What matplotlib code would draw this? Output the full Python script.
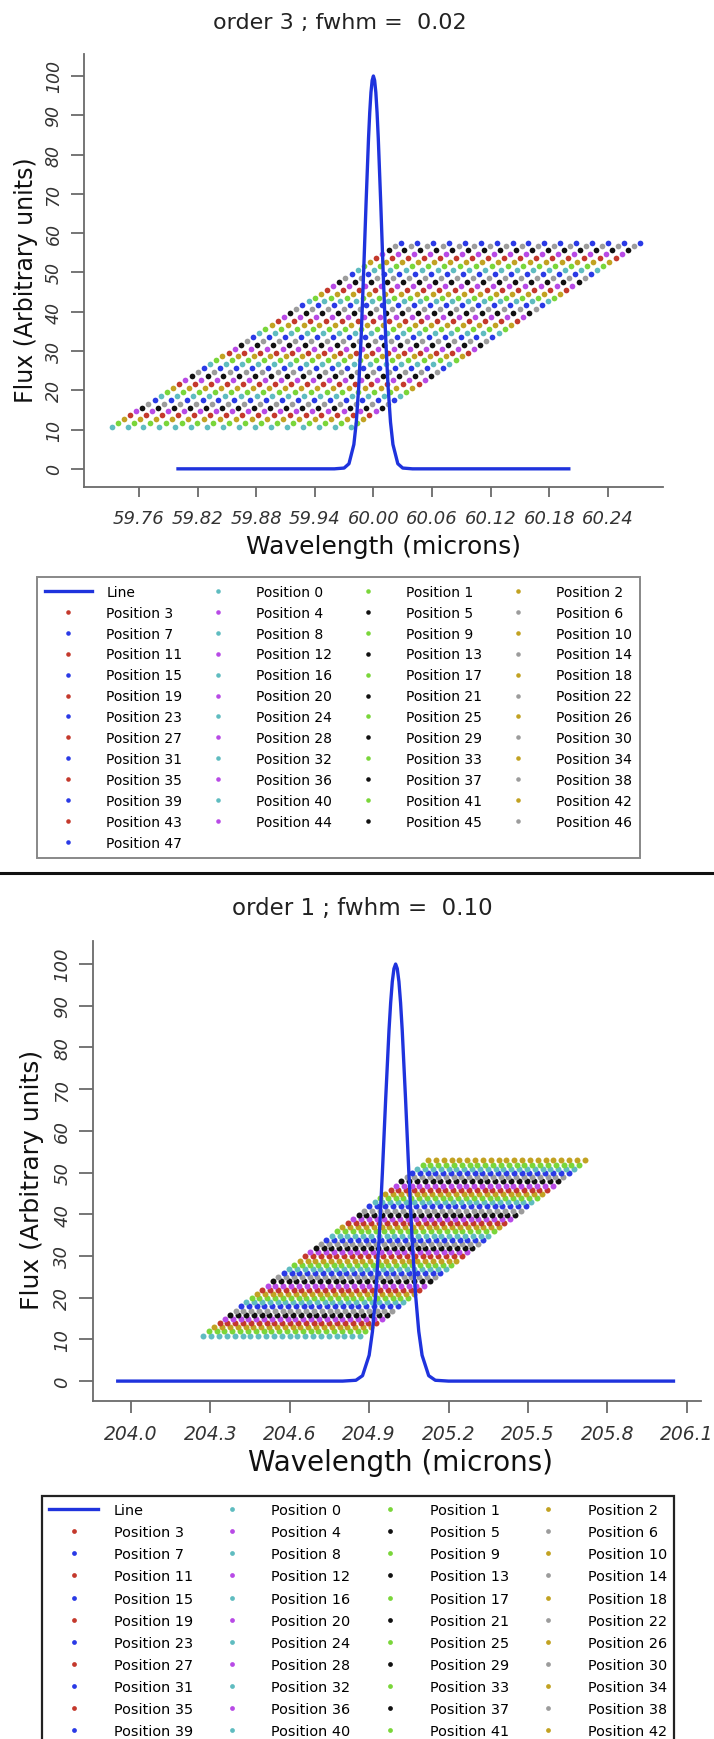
import numpy as np
import matplotlib
matplotlib.use("Agg")
import matplotlib.pyplot as plt
from matplotlib.lines import Line2D
from matplotlib.legend_handler import HandlerLine2D

plt.rcParams['font.family'] = ['DejaVu Sans']

# colours of the positions, repeating every 8 positions
pos_colors = ["#5fbcc0", "#7ad63a", "#c2a222", "#c4392c",
              "#b84ae6", "#111111", "#9c9c9c", "#2a3ae6"]
line_color = "#1f33dd"

# ---------------- panel 1 : order 3 ----------------
p1_title = "order 3 ; fwhm =  0.02"
p1_line_wave = [59.80, 59.96, 59.97, 59.975, 59.98, 59.9825, 59.985, 59.9875, 59.99,
                59.9925, 59.995, 59.99625, 59.9975, 59.99875, 60.00, 60.00125, 60.0025,
                60.00375, 60.005, 60.0075, 60.01, 60.0125, 60.015, 60.0175, 60.02,
                60.025, 60.03, 60.04, 60.20]
p1_line_flux = [0.0, 0.0, 0.2, 1.3, 6.2, 11.9, 21.0, 33.8, 50.0,
                67.7, 84.1, 90.7, 95.8, 98.9, 100.0, 98.9, 95.8,
                90.7, 84.1, 67.7, 50.0, 33.8, 21.0, 11.9, 6.2,
                1.3, 0.2, 0.0, 0.0]
# sampling grid of the positions (one row of samples per position)
p1_n_pos = 48
p1_first_wave = 59.732     # first sample of position 0
p1_pos_shift = 0.0063      # wavelength shift from one position to the next
p1_samp_step = 0.01633     # spacing of samples inside a position
p1_n_samp = 16
p1_first_flux = 10.6
p1_flux_step = 1.0
p1_xticks = [59.76, 59.82, 59.88, 59.94, 60.00, 60.06, 60.12, 60.18, 60.24]
p1_xlim = (59.704, 60.296)

# ---------------- panel 2 : order 1 ----------------
p2_title = "order 1 ; fwhm =  0.10"
p2_line_wave = [203.95, 204.80, 204.85, 204.875, 204.90, 204.9125, 204.925, 204.9375, 204.95,
                204.9625, 204.975, 204.98125, 204.9875, 204.99375, 205.00, 205.00625, 205.0125,
                205.01875, 205.025, 205.0375, 205.05, 205.0625, 205.075, 205.0875, 205.10,
                205.125, 205.15, 205.20, 206.05]
p2_line_flux = [0.0, 0.0, 0.2, 1.3, 6.2, 11.9, 21.0, 33.8, 50.0,
                67.7, 84.1, 90.7, 95.8, 98.9, 100.0, 98.9, 95.8,
                90.7, 84.1, 67.7, 50.0, 33.8, 21.0, 11.9, 6.2,
                1.3, 0.2, 0.0, 0.0]
p2_n_pos = 43
p2_first_wave = 204.274
p2_pos_shift = 0.0202
p2_samp_step = 0.0296
p2_n_samp = 21
p2_first_flux = 10.9
p2_flux_step = 1.0
p2_xticks = [204.0, 204.3, 204.6, 204.9, 205.2, 205.5, 205.8, 206.1]
p2_xlim = (203.858, 206.154)

yticks = [0, 10, 20, 30, 40, 50, 60, 70, 80, 90, 100]
ylim = (-4.7, 105.6)

W, H = 714.0, 1740.0


def fx(px):
    return px / W


def fy(py):
    return 1 - py / H


class DotRight(HandlerLine2D):
    # put the legend point near the right end of the handle, like R does
    def get_xdata(self, legend, xdescent, ydescent, width, height, fontsize):
        return [-xdescent, -xdescent + width], [-xdescent + 0.93 * width]


def draw_panel(ax, line_wave, line_flux, n_pos, first_wave, shift, step, n_samp,
               first_flux, flux_step, ms):
    handles = []
    ln, = ax.plot(line_wave, line_flux, color=line_color, lw=2.4, label="Line", zorder=4)
    handles.append(ln)
    for p in range(n_pos):
        w = first_wave + p * shift + step * np.arange(n_samp)
        f = np.full(n_samp, first_flux + p * flux_step)
        h, = ax.plot(w, f, ls='none', marker='o', ms=ms, mew=0,
                     color=pos_colors[p % 8], label="Position %d" % p, zorder=3)
        handles.append(h)
    return handles


def style_axes(ax, xticks, fmt, xlim, size):
    ax.set_xlim(*xlim)
    ax.set_ylim(*ylim)
    for s in ('top', 'right'):
        ax.spines[s].set_visible(False)
    for s in ('left', 'bottom'):
        ax.spines[s].set_color('#6a6a6a')
        ax.spines[s].set_linewidth(1.3)
    ax.set_xticks(xticks, [fmt % v for v in xticks], style='italic', fontsize=size, color='#333333')
    ax.set_yticks(yticks, [str(v) for v in yticks], style='italic', fontsize=size - 0.5,
                  color='#333333', rotation=90, va='center')
    ax.tick_params(axis='both', color='#6a6a6a', width=1.3)
    ax.tick_params(axis='y', length=9.5, pad=6)
    ax.tick_params(axis='x', length=7.5, pad=8)


def col_order(handles, ncol=4):
    return [h for c in range(ncol) for h in handles[c::ncol]]


def add_legend(handles, left, top, right, fs, edge, lw, pad, spacing):
    hs = col_order(handles)
    x0, x1 = fx(left), fx(right)
    leg = fig.legend(hs, [h.get_label() for h in hs], loc='upper left',
                     bbox_to_anchor=(x0, fy(top) - 0.2, x1 - x0, 0.2),
                     bbox_transform=fig.transFigure, mode='expand',
                     ncol=4, fontsize=fs, handlelength=3.4, handletextpad=1.05,
                     labelspacing=spacing, borderpad=pad, borderaxespad=0,
                     markerscale=0.8, fancybox=False, framealpha=1,
                     handler_map={Line2D: DotRight()})
    leg.get_frame().set_edgecolor(edge)
    leg.get_frame().set_linewidth(lw)
    return leg


fig = plt.figure(figsize=(W / 100, H / 100), dpi=100)

# ---- top panel
ax1 = fig.add_axes([fx(84.2), fy(488.3), fx(662.6) - fx(84.2), fy(55) - fy(488.3)])
h1 = draw_panel(ax1, p1_line_wave, p1_line_flux, p1_n_pos, p1_first_wave, p1_pos_shift,
                p1_samp_step, p1_n_samp, p1_first_flux, p1_flux_step, ms=4.1)
style_axes(ax1, p1_xticks, "%.2f", p1_xlim, 13)
fig.text(fx(340), fy(23), p1_title, ha='center', va='center', fontsize=16, color='#222222')
fig.text(fx(26), fy(280), "Flux (Arbitrary units)", rotation=90, ha='center', va='center',
         fontsize=17, color='#111111')
fig.text(fx(383), fy(547), "Wavelength (microns)", ha='center', va='center',
         fontsize=18, color='#111111')
add_legend(h1, 37, 578, 640, 10, '#888888', 1.4, 0.55, 0.5)

# separator between the two panels
fig.add_artist(Line2D([0, 1], [fy(874), fy(874)], transform=fig.transFigure,
                      color='#111111', lw=2.2))

# ---- bottom panel
ax2 = fig.add_axes([fx(93.4), fy(1401.7), fx(701) - fx(93.4), fy(941.7) - fy(1401.7)])
h2 = draw_panel(ax2, p2_line_wave, p2_line_flux, p2_n_pos, p2_first_wave, p2_pos_shift,
                p2_samp_step, p2_n_samp, p2_first_flux, p2_flux_step, ms=4.3)
style_axes(ax2, p2_xticks, "%.1f", p2_xlim, 13.5)
ax2.tick_params(axis='x', length=8.5, pad=8)
ax2.tick_params(axis='y', length=10, pad=6)
fig.text(fx(362), fy(909), p2_title, ha='center', va='center', fontsize=16.5, color='#222222')
fig.text(fx(32), fy(1180), "Flux (Arbitrary units)", rotation=90, ha='center', va='center',
         fontsize=18, color='#111111')
fig.text(fx(400), fy(1463), "Wavelength (microns)", ha='center', va='center',
         fontsize=20, color='#111111')
# the bottom of this legend runs past the lower edge of the picture
add_legend(h2, 42, 1497, 674, 10.4, '#222222', 1.6, 0.5, 0.56)

fig.savefig("out.png", dpi=100)
